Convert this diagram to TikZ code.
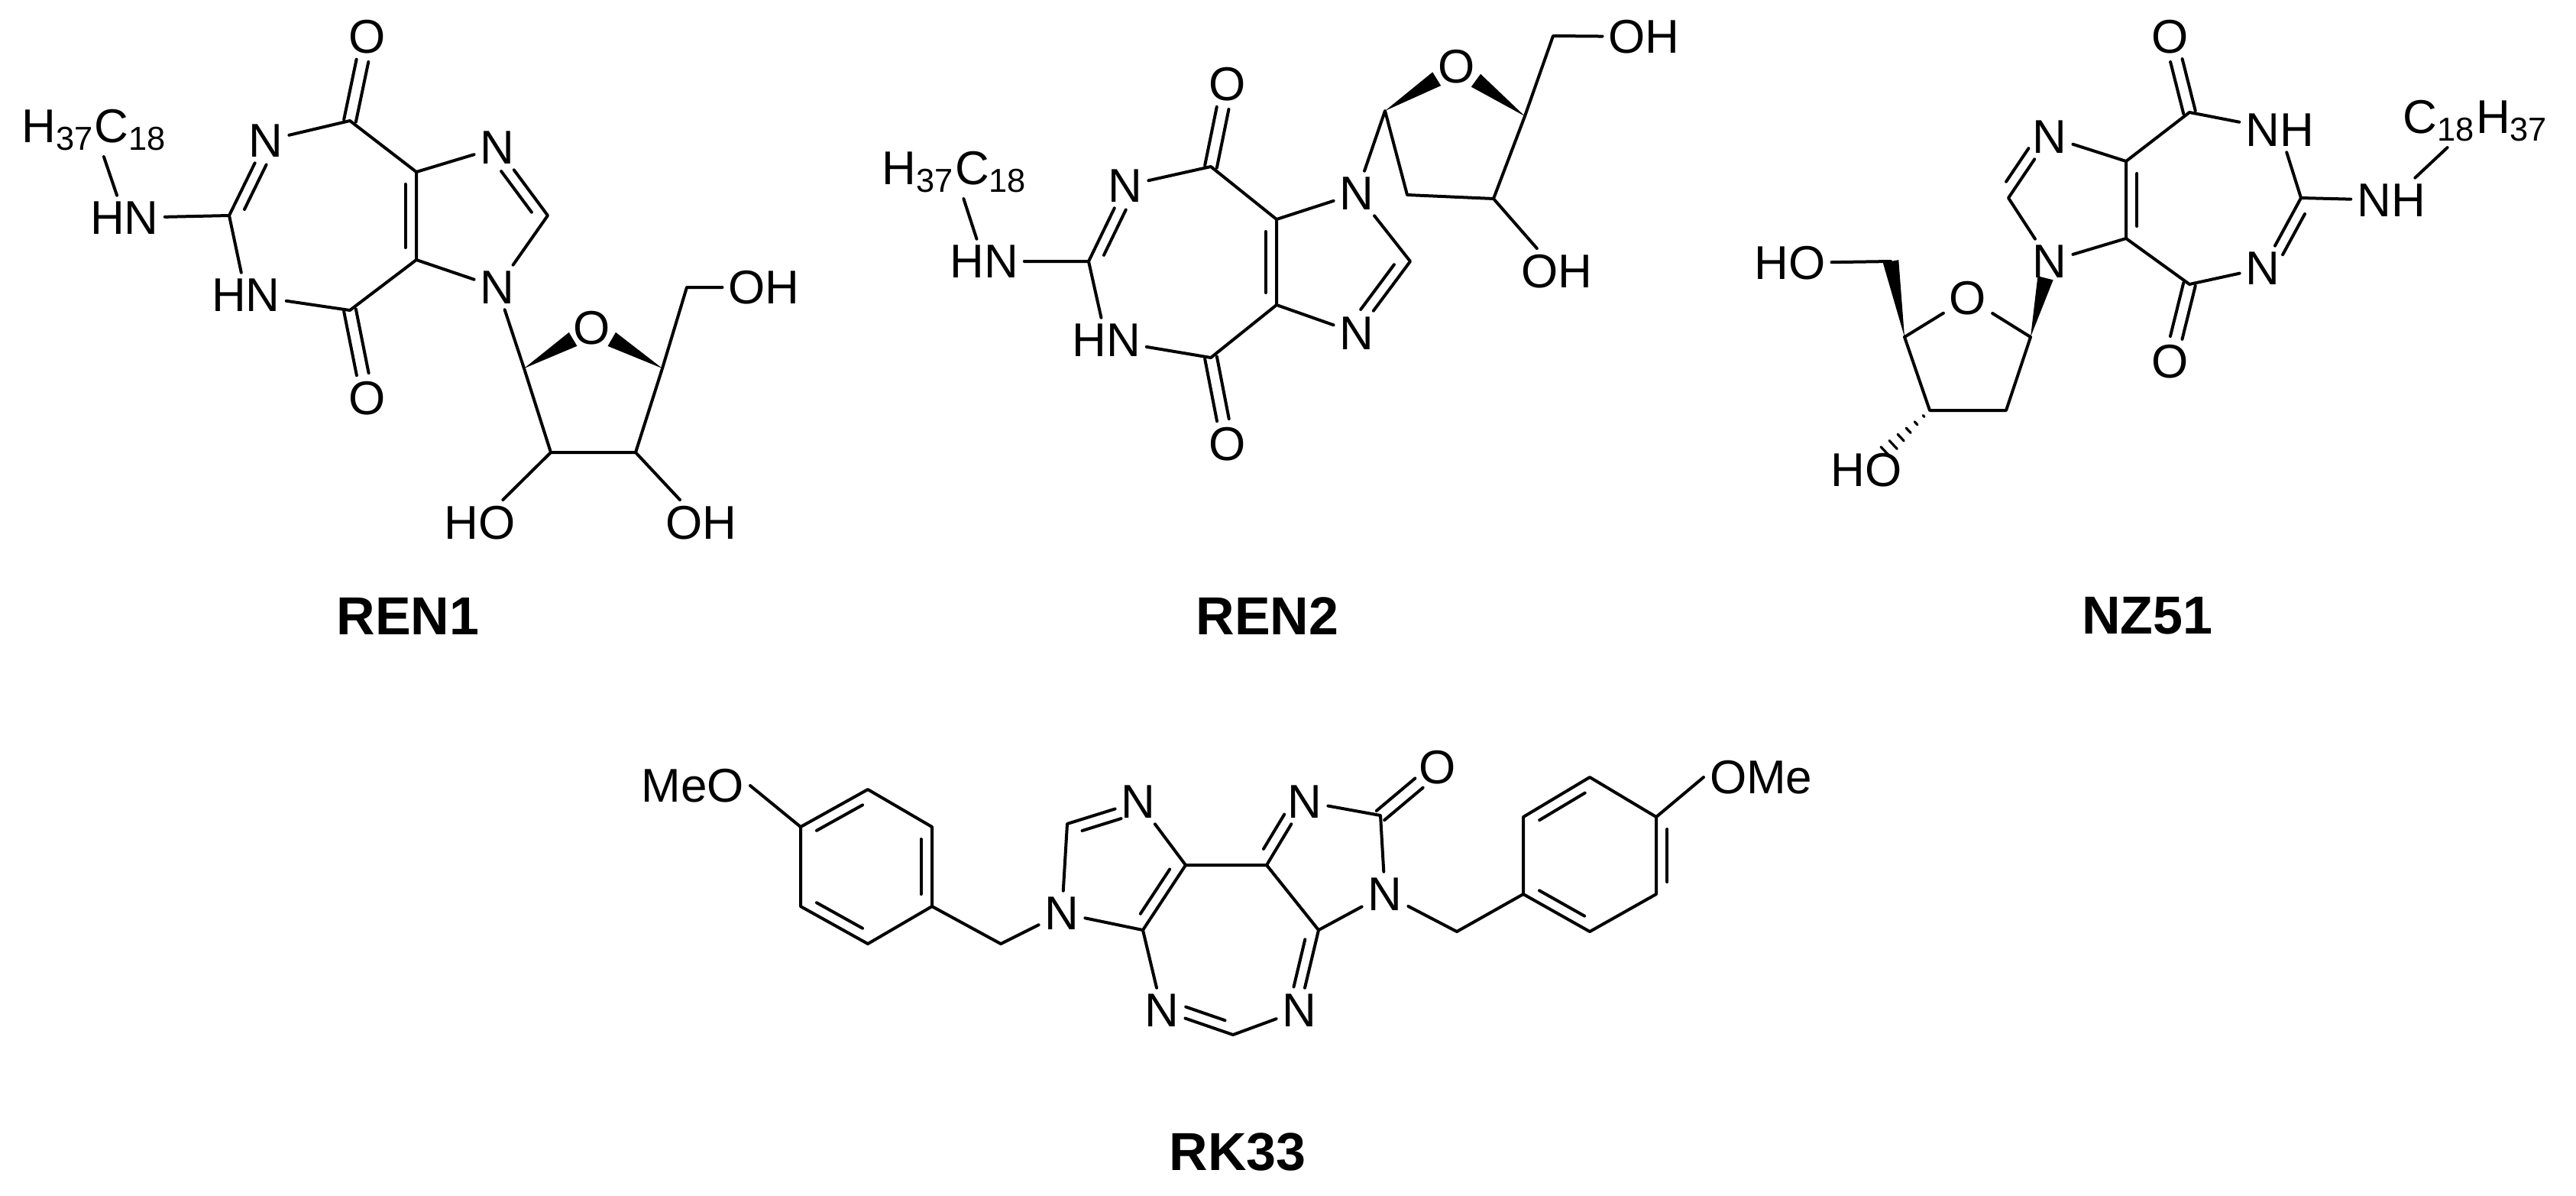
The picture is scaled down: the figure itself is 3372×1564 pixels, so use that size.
\documentclass[tikz,border=0pt]{standalone}
\usepackage{fontspec}
\setmainfont{Liberation Sans}
\usetikzlibrary{calc}
\tikzset{
  atm/.style={inner sep=1.5pt,font=\fontsize{15.5pt}{16pt}\selectfont},
  ttl/.style={font=\fontsize{17.5pt}{18pt}\selectfont\bfseries},
}
\newcommand\dbl[6]{\draw[shorten <=#5, shorten >=#6] ($(#1)!#4!#3:(#2)$) -- ($(#2)!#4!-#3:(#1)$);}
\newcommand\cdo[2]{\dbl{#1}{#2}{90}{2pt}{0pt}{8pt}\dbl{#1}{#2}{-90}{2pt}{0pt}{8pt}}
\newcommand\wdg[3]{\fill (#1) -- ($(#2)!#3!90:(#1)$) -- ($(#2)!#3!-90:(#1)$) -- cycle;}
\begin{document}
\begin{tikzpicture}[x=0.25pt,y=-0.25pt,line width=1pt,line cap=round,line join=round]
\useasboundingbox (0,0) rectangle (3372,1564);
% ================= REN1 =================
\node[atm] (aOt) at (481,48) {O};
\coordinate (aC7) at (458,158);
\node[atm] (aN1) at (348,184) {N};
\coordinate (aC2) at (300,282);
\node[atm] (aNH1) at (322,386) {HN};
\coordinate (aC6) at (458,406);
\node[atm] (aOb) at (481,521) {O};
\coordinate (aC3a) at (545,225);
\coordinate (aC7a) at (545,340);
\node[atm] (aNi) at (651,193) {N};
\coordinate (aCH) at (717,282);
\node[atm] (aN9) at (651,376) {N};
\node[atm] (aNHx) at (163,285) {HN};
\node[atm] (aR) at (124,170) {H\textsubscript{37}C\textsubscript{18}};
\coordinate (aS1) at (686,482);
\node[atm] (aSO) at (775,429) {O};
\coordinate (aS4) at (867,482);
\coordinate (aS5) at (899,376);
\node[atm] (aOH5) at (1000,376) {OH};
\coordinate (aS2) at (721,592);
\coordinate (aS3) at (832,592);
\node[atm] (aHO2) at (628,684) {HO};
\node[atm] (aOH3) at (918,684) {OH};
\draw (aN1)--(aC7)--(aC3a)--(aNi)--(aCH)--(aN9)--(aC7a)--(aC6)--(aNH1)--(aC2)--(aN1);
\draw (aC3a)--(aC7a) (aC2)--(aNHx)--(aR);
\dbl{aNi}{aCH}{-90}{3.6pt}{7pt}{4pt}
\dbl{aC3a}{aC7a}{-90}{3.6pt}{4pt}{4pt}
\dbl{aC2}{aN1}{-90}{3.6pt}{4pt}{7pt}
\cdo{aC7}{aOt}\cdo{aC6}{aOb}
\draw (aN9)--(aS1)--(aS2)--(aS3)--(aS4)--(aS5)--(aOH5) (aS2)--(aHO2) (aS3)--(aOH3);
\coordinate (aw1) at ($(aS1)!0.72!(aSO)$);
\coordinate (aw2) at ($(aS4)!0.72!(aSO)$);
\wdg{aS1}{aw1}{2.6pt}\wdg{aS4}{aw2}{2.6pt}
\node[ttl] at (534,806) {REN1};
% ================= REN2 =================
\node[atm] (bOt) at (1607,110) {O};
\coordinate (bC7) at (1585,218);
\node[atm] (bN1) at (1473,243) {N};
\coordinate (bC2) at (1425,342);
\node[atm] (bNH1) at (1448,445) {HN};
\coordinate (bC6) at (1585,468);
\node[atm] (bOb) at (1607,581) {O};
\coordinate (bC3a) at (1671,287);
\coordinate (bC7a) at (1671,399);
\node[atm] (bN7) at (1776,253) {N};
\coordinate (bCH) at (1846,342);
\node[atm] (bN9) at (1776,436) {N};
\node[atm] (bNHx) at (1288,342) {HN};
\node[atm] (bR) at (1250,225) {H\textsubscript{37}C\textsubscript{18}};
\coordinate (bS1) at (1813,145);
\node[atm] (bSO) at (1907,87) {O};
\coordinate (bS4) at (1996,152);
\coordinate (bS5) at (2033,47);
\node[atm] (bOH5) at (2152,48) {OH};
\coordinate (bS2) at (1842,255);
\coordinate (bS3) at (1955,260);
\node[atm] (bOH3) at (2038,355) {OH};
\draw (bN1)--(bC7)--(bC3a)--(bN7)--(bCH)--(bN9)--(bC7a)--(bC6)--(bNH1)--(bC2)--(bN1);
\draw (bC3a)--(bC7a) (bC2)--(bNHx)--(bR);
\dbl{bCH}{bN9}{-90}{3.6pt}{4pt}{7pt}
\dbl{bC3a}{bC7a}{-90}{3.6pt}{4pt}{4pt}
\dbl{bC2}{bN1}{-90}{3.6pt}{4pt}{7pt}
\cdo{bC7}{bOt}\cdo{bC6}{bOb}
\draw (bN7)--(bS1)--(bS2)--(bS3)--(bS4)--(bS5)--(bOH5) (bS3)--(bOH3);
\coordinate (bw1) at ($(bS1)!0.72!(bSO)$);
\coordinate (bw2) at ($(bS4)!0.72!(bSO)$);
\wdg{bS1}{bw1}{2.6pt}\wdg{bS4}{bw2}{2.6pt}
\node[ttl] at (1659,806) {REN2};
% ================= NZ51 =================
\node[atm] (cOt) at (2841,48) {O};
\coordinate (cC7) at (2866,147);
\node[atm] (cNH1) at (2984,170) {NH};
\coordinate (cC2) at (3012,259);
\node[atm] (cN3) at (2962,351) {N};
\coordinate (cC6) at (2866,372);
\node[atm] (cOb) at (2841,473) {O};
\coordinate (cC3a) at (2783,211);
\coordinate (cC7a) at (2783,312);
\node[atm] (cNi) at (2683,179) {N};
\coordinate (cCH) at (2629,259);
\node[atm] (cN9) at (2683,342) {N};
\node[atm] (cNHx) at (3130,262) {NH};
\node[atm] (cR) at (3241,158) {C\textsubscript{18}H\textsubscript{37}};
\coordinate (cS1) at (2658,441);
\node[atm] (cSO) at (2576,390) {O};
\coordinate (cS4) at (2493,441);
\coordinate (cS5) at (2475,342);
\node[atm] (cHO5) at (2343,344) {HO};
\coordinate (cS3) at (2526,537);
\coordinate (cS2) at (2626,537);
\node[atm] (cHO3) at (2443,615) {HO};
\draw (cC7)--(cNH1)--(cC2)--(cN3)--(cC6)--(cC7a)--(cN9)--(cCH)--(cNi)--(cC3a)--(cC7);
\draw (cC3a)--(cC7a) (cC2)--(cNHx)--(cR);
\dbl{cC2}{cN3}{90}{3.6pt}{4pt}{7pt}
\dbl{cCH}{cNi}{90}{3.6pt}{4pt}{7pt}
\dbl{cC3a}{cC7a}{90}{3.6pt}{4pt}{4pt}
\cdo{cC7}{cOt}\cdo{cC6}{cOb}
\draw (cS1)--(cSO)--(cS4) (cS4)--(cS3)--(cS2)--(cS1) (cS5)--(cHO5);
\coordinate (cw1) at ($(cS1)!0.78!(cN9)$);
\wdg{cS1}{cw1}{2.6pt}\wdg{cS4}{cS5}{2.6pt}
\coordinate (cw3) at ($(cS3)!0.8!(cHO3)$);
\foreach \t in {0.12,0.27,0.42,0.57,0.72,0.87}
  \draw[line width=0.8pt] ($(cS3)!\t!(cw3)!{\t*2.6pt}!90:(cw3)$) -- ($(cS3)!\t!(cw3)!{\t*2.6pt}!-90:(cw3)$);
\node[ttl] at (2811,806) {NZ51};
% ================= RK33 =================
\node[atm,anchor=east] (dMeO) at (982,1028) {MeO};
\coordinate (dT) at (1136,1033);
\coordinate (dUR) at (1220,1082);
\coordinate (dLR) at (1220,1186);
\coordinate (dB) at (1136,1235);
\coordinate (dLL) at (1048,1186);
\coordinate (dUL) at (1048,1082);
\coordinate (dM1) at (1310,1235);
\node[atm] (dNa) at (1390,1195) {N};
\coordinate (dCHa) at (1397,1078);
\node[atm] (dNb) at (1490,1049) {N};
\coordinate (dCa) at (1552,1132);
\coordinate (dCb) at (1496,1217);
\node[atm] (dNc) at (1521,1322) {N};
\coordinate (dCHc) at (1614,1354);
\node[atm] (dNd) at (1701,1322) {N};
\coordinate (dCd) at (1726,1217);
\coordinate (dCe) at (1658,1132);
\node[atm] (dNe) at (1708,1049) {N};
\coordinate (dCf) at (1807,1067);
\node[atm] (dOf) at (1882,1004) {O};
\node[atm] (dNf) at (1813,1170) {N};
\coordinate (dM2) at (1907,1219);
\coordinate (eLL) at (1994,1170);
\coordinate (eB) at (2081,1219);
\coordinate (eLR) at (2168,1170);
\coordinate (eUR) at (2168,1069);
\coordinate (eT) at (2081,1017);
\coordinate (eUL) at (1994,1069);
\node[atm,anchor=west] (dOMe) at (2230,1017) {OMe};
\draw (dMeO.east)--(dUL);
\draw (dT)--(dUR)--(dLR)--(dB)--(dLL)--(dUL)--cycle;
\dbl{dUL}{dT}{-90}{3.6pt}{4pt}{4pt}
\dbl{dUR}{dLR}{-90}{3.6pt}{4pt}{4pt}
\dbl{dB}{dLL}{-90}{3.6pt}{4pt}{4pt}
\draw (dLR)--(dM1)--(dNa)--(dCHa)--(dNb)--(dCa)--(dCb)--(dNa);
\dbl{dCHa}{dNb}{-90}{3.6pt}{4pt}{7pt}
\dbl{dCa}{dCb}{-90}{3.6pt}{4pt}{4pt}
\draw (dCb)--(dNc)--(dCHc)--(dNd)--(dCd)--(dCe)--(dCa);
\dbl{dCHc}{dNc}{-90}{3.6pt}{4pt}{7pt}
\dbl{dCd}{dNd}{-90}{3.6pt}{4pt}{7pt}
\draw (dCe)--(dNe)--(dCf)--(dNf)--(dCd) (dNf)--(dM2)--(eLL);
\dbl{dCe}{dNe}{90}{3.6pt}{4pt}{7pt}
\cdo{dCf}{dOf}
\draw (eLL)--(eB)--(eLR)--(eUR)--(eT)--(eUL)--cycle;
\dbl{eUL}{eT}{-90}{3.6pt}{4pt}{4pt}
\dbl{eLL}{eB}{90}{3.6pt}{4pt}{4pt}
\dbl{eLR}{eUR}{-90}{3.6pt}{4pt}{4pt}
\draw (eUR)--(dOMe.west);
\node[ttl] at (1620,1507) {RK33};
\end{tikzpicture}
\end{document}
